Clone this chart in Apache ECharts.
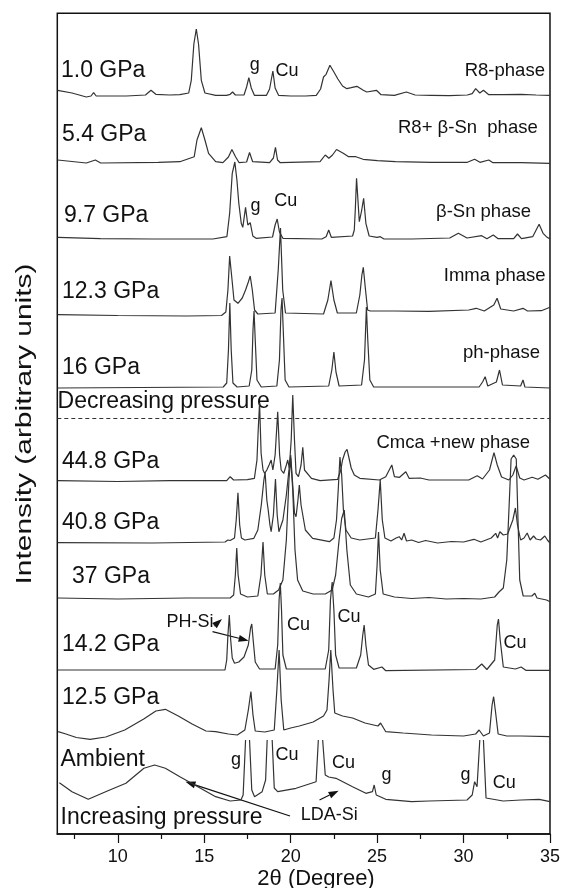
<!DOCTYPE html>
<html>
<head>
<meta charset="utf-8">
<script src="https://cdn.jsdelivr.net/npm/echarts@6/dist/echarts.min.js"></script>
<style>
  html, body { margin: 0; padding: 0; background: #ffffff; }
  #chart { width: 563px; height: 888px; }
</style>
</head>
<body>
<div id="chart"></div>
<script>
// ---- axis ----
const thetaMin = 6.5;
const thetaMax = 35;
const majorTicks = [10, 15, 20, 25, 30, 35];
const minorTicks = [7.5, 12.5, 17.5, 22.5, 27.5, 32.5];

// ---- patterns, top to bottom: [2θ, intensity above own baseline] ----
const pressures = ['1.0 GPa', '5.4 GPa', '9.7 GPa', '12.3 GPa', '16 GPa',
                   '44.8 GPa', '40.8 GPa', '37 GPa', '14.2 GPa', '12.5 GPa', 'Ambient'];
// baseline of each pattern in the stacked plot (arbitrary units)
const offsets = [738, 671, 595, 519, 446, 353.3, 291.5, 235.5, 163.3, 94, 32];

const p1_0 = [[6.52,5.7],[7.35,3],[8.18,-1],[8.45,0],[8.6,3.3],[8.75,0],[9.43,0],[10.5,0],[11.6,1],[11.92,5.7],[12.2,1.7],[13.0,1],[13.59,1.3],[14.1,3],[14.25,15.7],[14.4,52],[14.54,67],[14.67,52],[14.83,15.7],[15.04,3],[15.66,0.7],[16.29,0.7],[16.5,1.7],[16.64,4],[16.8,1],[17.3,1],[17.45,9],[17.58,18.3],[17.72,8],[17.9,0.7],[18.6,0.7],[18.78,7],[18.97,25],[19.1,8],[19.3,0.7],[20.0,0],[20.86,0],[21.48,0.7],[21.73,7],[21.9,19],[22.05,21.7],[22.27,30.7],[22.5,24],[22.73,17],[23.0,10],[23.25,7.3],[23.5,8.3],[23.83,9.7],[24.2,5.7],[24.4,4],[24.96,5.7],[25.23,1.3],[26.0,0.7],[26.69,4],[27.2,1],[28.14,0.7],[29.18,0.3],[30.22,1],[30.5,2.3],[30.7,7.3],[30.94,3],[31.15,5.7],[31.46,1.3],[32.29,1.3],[33.33,1.7],[34.2,1],[35.0,0.7]];

const p5_4 = [[6.52,3],[8.18,0],[8.7,3],[9.01,0],[12.34,0.7],[13.59,1.3],[14.42,6.3],[14.58,23],[14.83,35.3],[15.04,23],[15.25,9.7],[15.66,1.3],[16.08,0.3],[16.4,6],[16.6,13.5],[16.81,6.3],[17.02,0.3],[17.45,1],[17.62,10.5],[17.8,1.3],[18.78,0.3],[19.0,5],[19.12,15.7],[19.24,3],[19.4,0.3],[21.7,1.3],[22.0,8],[22.21,4.7],[22.42,8],[22.65,13.5],[23.04,9.7],[23.35,6.3],[23.77,6.3],[24.19,3.7],[25.02,2.3],[26.06,1.3],[28.14,0.7],[30.22,0.7],[30.64,3.7],[30.95,0.7],[31.46,3],[31.7,0.3],[33.33,0.3],[35.0,-0.3]];

const p9_7 = [[6.52,1.7],[9.0,0.3],[12.0,0],[15.5,0],[16.31,2.3],[16.47,25.7],[16.62,65.7],[16.77,77],[16.89,59],[17.0,35.7],[17.14,15.7],[17.23,11.7],[17.39,31.7],[17.52,14],[17.66,16.3],[17.81,3],[18.0,0.7],[18.95,2],[19.1,14],[19.22,20],[19.35,7],[19.55,0.7],[21.8,0],[22.05,2.3],[22.2,9],[22.35,1.7],[23.58,3],[23.68,9],[23.74,30],[23.81,60.7],[23.97,17.3],[24.1,28],[24.22,40.7],[24.35,15.7],[24.54,3],[25.0,1.7],[25.18,2.3],[25.4,0],[27.0,0],[29.2,1],[29.7,5.7],[30.2,1],[31.05,3.3],[31.35,0.3],[31.72,4],[32.0,0.3],[32.9,0.3],[33.12,5],[33.35,0.3],[34.0,2.3],[34.37,14.7],[34.6,5.7],[34.79,2.3],[35.0,0]];

const p12_3 = [[6.52,0.3],[10,-0.5],[14,-1],[16.0,-0.5],[16.25,3],[16.37,25],[16.47,59],[16.58,40],[16.72,15],[16.95,11.7],[17.2,17],[17.39,25],[17.55,33],[17.66,39],[17.78,25],[17.91,5],[18.1,1],[19.1,2],[19.28,45],[19.41,87],[19.54,25],[19.7,2],[21.9,1],[22.15,15],[22.33,34.3],[22.5,15],[22.7,2],[23.8,2],[24.0,20],[24.12,40],[24.2,47.7],[24.33,25],[24.45,5],[24.6,4],[26,4],[28,3.7],[30.3,5],[30.73,6.7],[31.2,4],[31.75,10],[31.94,16.7],[32.15,6],[32.9,4],[33.44,6.7],[33.7,4],[34.5,4.3],[35.0,7.7]];

const p16 = [[6.52,0],[16.1,1],[16.3,5],[16.4,38],[16.48,85],[16.56,38],[16.66,5],[16.9,1],[17.6,2],[17.75,18],[17.82,58],[17.88,77],[17.95,48],[18.05,8],[18.3,1],[19.2,2],[19.35,28],[19.44,78],[19.5,90],[19.57,58],[19.68,8],[19.9,1],[22.2,2],[22.38,18],[22.5,36],[22.62,16],[22.8,2],[24.1,3],[24.27,28],[24.38,81],[24.46,48],[24.58,8],[24.8,1],[30.9,1],[31.1,6],[31.25,11.3],[31.4,2],[31.9,6],[32.08,18],[32.25,3],[33.3,2],[33.44,8],[33.55,1],[35.0,0]];

const p44_8 = [[6.52,0],[10,-0.8],[13,0],[16.3,0],[16.5,4],[16.7,0.7],[17.5,1],[17.9,2.4],[18.05,20.7],[18.12,50],[18.2,77.7],[18.29,27.4],[18.4,10.7],[18.49,7.4],[18.62,10.7],[18.75,15.7],[18.87,20.7],[18.97,10.7],[19.1,25.7],[19.25,69],[19.36,25.7],[19.45,10.7],[19.6,7.4],[19.75,15.7],[19.83,20.7],[19.92,12.7],[20.03,40.7],[20.12,85.7],[20.22,40.7],[20.31,7.4],[20.45,4],[20.6,15.7],[20.7,33.4],[20.8,10.7],[21.2,2.4],[21.7,0],[22.72,1.4],[22.9,10.7],[23.0,20.7],[23.15,28.7],[23.26,31.4],[23.4,20.7],[23.5,12.7],[23.68,5.7],[24.0,2.4],[25.13,0.7],[25.5,4],[25.7,10.7],[25.85,15.7],[26.0,4],[26.3,3.4],[26.66,9],[26.85,2.4],[27.5,2.7],[28,0.7],[30.3,0.7],[30.79,5],[31.1,1.7],[31.5,10.7],[31.76,28],[31.95,15.7],[32.2,3.7],[32.62,0.7],[32.85,5.7],[33.04,14.7],[33.25,2.7],[33.5,0.7],[33.97,3.4],[34.3,1.4],[34.74,5.7],[35.0,1.4]];

const p40_8 = [[6.52,-0.2],[12,-0.5],[16.2,0.5],[16.37,2.5],[16.5,2],[16.75,4.5],[16.85,22.5],[16.95,49.8],[17.05,17.5],[17.15,4.5],[17.35,2.5],[17.87,4.2],[18.1,12.5],[18.3,37.5],[18.45,62.5],[18.52,70.5],[18.62,42.5],[18.7,32.5],[18.8,17.5],[18.87,10.8],[19.0,27.5],[19.12,63.5],[19.22,27.5],[19.32,10.8],[19.55,22.5],[19.75,47.5],[19.9,72.5],[20.0,87.5],[20.1,62.5],[20.22,29.5],[20.31,25.8],[20.42,42.5],[20.5,57.5],[20.6,37.5],[20.85,12.5],[21.27,4.2],[22.24,0.8],[22.5,4.5],[22.65,22.5],[22.75,52.5],[22.85,85.5],[22.95,67.5],[23.05,32.5],[23.2,12.5],[23.5,4.5],[24.0,2.5],[24.9,4.5],[25.05,32.5],[25.18,62.5],[25.3,22.5],[25.45,4.5],[25.8,1.5],[26.1,4.5],[26.28,5.8],[26.42,2.5],[26.56,9.2],[26.7,1.5],[27.0,2.5],[27.4,0],[27.8,2],[28.5,-0.5],[29.3,1],[30.0,0.5],[30.6,3.2],[31.0,0.5],[31.6,4.5],[31.86,9.2],[31.97,4.5],[32.1,10.8],[32.3,7.5],[32.55,8.5],[32.85,22.5],[33.0,34.5],[33.12,17.5],[33.3,2.5],[33.5,4.5],[33.68,9.5],[33.85,2.5],[34.05,6.5],[34.2,3.5],[34.45,2.5],[34.7,6.5],[34.85,2.5],[35.0,-0.5]];

const p37 = [[6.52,0.5],[10,-0.5],[14,0.5],[16.5,0.5],[16.7,3.5],[16.8,23.5],[16.88,50.5],[16.96,23.5],[17.1,4.5],[17.5,1.5],[18.1,2.5],[18.28,23.5],[18.4,56.5],[18.5,23.5],[18.65,4.5],[19.0,4.5],[19.3,8.5],[19.55,18.5],[19.75,58.5],[19.9,118.5],[20.0,140.5],[20.12,108.5],[20.25,48.5],[20.4,18.5],[20.7,7.5],[21.3,4.5],[22.0,4.5],[22.4,8.5],[22.6,23.5],[22.8,58.5],[22.95,80],[23.1,88.5],[23.25,48.5],[23.45,13.5],[23.8,4.5],[24.5,1.5],[24.9,4.5],[25.0,33.5],[25.08,66.5],[25.18,28.5],[25.35,4.5],[26.0,1.5],[27.0,0],[28.0,1],[29.0,-0.5],[30.0,0],[31.0,-0.5],[31.8,1.5],[32.05,6.5],[32.14,8.5],[32.3,10.5],[32.5,38.5],[32.65,98.5],[32.75,139.5],[32.9,143.5],[33.05,139.5],[33.15,78.5],[33.25,18.5],[33.45,2.5],[33.95,2.5],[34.12,5.2],[34.25,0.5],[34.8,-1.5],[35.0,-3.2]];

const p14_2 = [[6.52,0.7],[16.2,0.7],[16.3,10.7],[16.37,35.7],[16.45,55.7],[16.53,30.7],[16.62,12.7],[16.75,7.4],[17.0,8.7],[17.3,13.7],[17.55,25.7],[17.68,42.7],[17.75,46.7],[17.83,30.7],[17.95,8.7],[18.2,1.7],[19.1,1.7],[19.25,25.7],[19.33,70.7],[19.4,87.7],[19.47,60.7],[19.55,15.7],[19.75,1.7],[22.0,1.7],[22.2,20.7],[22.3,70.7],[22.4,88.7],[22.5,60.7],[22.6,15.7],[22.8,2.7],[23.8,2.7],[24.05,15.7],[24.17,35.7],[24.25,45.7],[24.35,25.7],[24.5,5.7],[24.8,1.4],[25.28,3.7],[25.5,0],[30.7,1.2],[31.05,6.7],[31.35,1.2],[31.8,10.7],[31.95,45.7],[32.02,51.7],[32.12,30.7],[32.3,3.7],[33.0,1.7],[33.33,3.7],[33.6,0.4],[35.0,0.4]];

const p12_5 = [[6.55,8.3],[7.0,6],[7.6,2.5],[8.4,0.7],[9.3,3],[10.4,10],[11.5,21],[12.2,29],[12.75,30.7],[13.5,24],[14.3,16],[15.1,9],[15.66,8.3],[16.4,6],[16.91,5],[17.35,10],[17.55,30],[17.7,48.5],[17.82,25],[17.95,9],[18.5,8],[19.05,10],[19.2,50],[19.33,90],[19.45,40],[19.6,10],[20.0,12],[20.5,14],[21.3,18],[21.9,24],[22.1,30],[22.22,60],[22.32,90],[22.45,50],[22.55,27],[23.0,24],[23.58,22],[24.3,17],[25.05,14],[25.2,17],[25.5,8.3],[26.5,7],[28.14,5],[30.0,4],[30.7,6],[30.9,10],[31.15,4],[31.5,7],[31.65,35],[31.74,43.3],[31.85,28],[32.0,6],[32.5,4],[33.33,4],[35.0,3.3]];

// strong reflections of the ambient pattern run off the top of their band (null = break)
const pAmbient = [[6.62,19.3],[7.35,10.3],[8.29,2.7],[9.43,11.3],[10.47,18.7],[11.51,33.7],[12.13,37],[12.75,33.7],[13.59,25.3],[14.63,15.3],[15.66,5.3],[16.5,1],[17.12,2],[17.25,7],[17.39,62],null,[17.62,62],[17.75,12],[17.91,5.3],[18.35,10.3],[18.55,22],[18.64,62],null,[18.93,62],[19.05,14],[19.25,10.3],[20.31,13.7],[21.47,20.3],[21.6,62],null,[21.85,62],[22.0,27],[22.2,25],[22.62,23.7],[23.58,15.3],[24.35,8.7],[24.73,10.3],[24.83,17],[24.95,7],[25.5,2.7],[27.0,0.3],[28.0,1],[30.2,2],[30.5,7],[30.64,20.3],[30.78,15.3],[30.94,62],null,[31.15,62],[31.3,4],[32.29,1],[33.33,2],[34.37,2.7],[35.0,0.3]];

const patterns = [p1_0, p5_4, p9_7, p12_3, p16, p44_8, p40_8, p37, p14_2, p12_5, pAmbient];

const lineColor = '#333333';
const textColor = '#111111';
const FONT = 'Liberation Sans, Arial, Helvetica, sans-serif';

const series = patterns.map((pts, i) => ({
  name: pressures[i],
  type: 'line',
  xAxisIndex: 0,
  yAxisIndex: 0,
  showSymbol: false,
  silent: true,
  connectNulls: false,
  lineStyle: { color: lineColor, width: 1.2 },
  data: pts.map(p => p === null ? ['-', '-'] : [p[0], p[1] + offsets[i]])
}));

// dashed separator between increasing and decreasing runs
series[4].markLine = {
  silent: true,
  symbol: 'none',
  label: { show: false },
  lineStyle: { color: '#333', width: 1, type: [4, 3] },
  data: [{ yAxis: 415.7 }]
};

// ---- annotation text ----
function txt(s, x, y, size, align) {
  return {
    type: 'text', x: x, y: y, silent: true,
    style: { text: s, fill: textColor, font: size + 'px ' + FONT,
             textAlign: align || 'left', textVerticalAlign: 'middle' }
  };
}
function arrow(x1, y1, x2, y2) {
  const a = Math.atan2(y2 - y1, x2 - x1), L = 10, W = 3.5;
  const bx = x2 - L * Math.cos(a), by = y2 - L * Math.sin(a);
  const nx = -Math.sin(a) * W, ny = Math.cos(a) * W;
  return [
    { type: 'line', silent: true, shape: { x1: x1, y1: y1, x2: bx, y2: by },
      style: { stroke: '#111', lineWidth: 1.2 } },
    { type: 'polygon', silent: true,
      shape: { points: [[x2, y2], [bx + nx, by + ny], [bx - nx, by - ny]] },
      style: { fill: '#111' } }
  ];
}

const big = 23, mid = 18.5, small = 18;
const graphics = [
  txt('1.0 GPa', 61, 71, big), txt('5.4 GPa', 62, 135, big), txt('9.7 GPa', 64, 216, big),
  txt('12.3 GPa', 62, 292, big), txt('16 GPa', 62, 368, big),
  txt('Decreasing pressure', 57.6, 402, big),
  txt('44.8 GPa', 62, 462, big), txt('40.8 GPa', 62, 523, big), txt('37 GPa', 72, 577, big),
  txt('14.2 GPa', 62, 645, big), txt('12.5 GPa', 62, 698, big),
  txt('Ambient', 60.5, 760, big), txt('Increasing pressure', 60.5, 818, big),

  txt('R8-phase', 464.7, 71, mid), txt('R8+ β-Sn  phase', 398, 128, mid),
  txt('β-Sn phase', 436, 212, mid), txt('Imma phase', 443.8, 276, mid),
  txt('ph-phase', 463, 353, mid), txt('Cmca +new phase', 376.4, 443, mid),

  txt('g', 254.7, 65, small, 'center'), txt('Cu', 275.6, 71, small),
  txt('g', 255.5, 206, small, 'center'), txt('Cu', 274.3, 201, small),
  txt('PH-Si', 166.4, 622, small),
  txt('Cu', 287, 625, small), txt('Cu', 337.5, 617, small), txt('Cu', 503.6, 643, small),
  txt('g', 236, 760, small, 'center'), txt('Cu', 275.6, 755, small), txt('Cu', 332, 763, small),
  txt('g', 386.5, 775, small, 'center'), txt('g', 465.4, 775, small, 'center'),
  txt('Cu', 492.8, 783, small), txt('LDA-Si', 300.8, 815, small),

  txt('2θ (Degree)', 316, 879, 22, 'center'),
  {
    type: 'text', x: 25, y: 424, rotation: Math.PI / 2, scaleX: 1.36, silent: true,
    style: { text: 'Intensity (arbitrary units)', fill: textColor, font: '22px ' + FONT,
             textAlign: 'center', textVerticalAlign: 'middle' }
  }
].concat(
  arrow(212.5, 631.7, 248.6, 640.7),
  arrow(214, 626, 222, 619),
  arrow(290, 816, 185.5, 781.7),
  arrow(319.5, 800, 338.6, 790.7)
);

const chart = echarts.init(document.getElementById('chart'), null, { renderer: 'canvas' });
chart.setOption({
  animation: false,
  backgroundColor: '#ffffff',
  grid: { left: 57.3, right: 12.3, top: 13.3, bottom: 54, show: true,
          borderColor: '#111', borderWidth: 1.5, backgroundColor: 'transparent' },
  xAxis: [
    {
      type: 'value', min: thetaMin, max: thetaMax, position: 'bottom',
      axisLine: { show: true, onZero: false, lineStyle: { color: '#111', width: 1.5 } },
      axisTick: { show: true, inside: false, length: 9, customValues: majorTicks,
                  lineStyle: { color: '#111', width: 1.2 } },
      axisLabel: { show: true, customValues: majorTicks, margin: 14, fontSize: 18,
                   color: textColor, fontFamily: FONT },
      splitLine: { show: false }
    },
    {
      type: 'value', min: thetaMin, max: thetaMax, position: 'bottom',
      axisLine: { show: false },
      axisTick: { show: true, inside: false, length: 5, customValues: minorTicks,
                  lineStyle: { color: '#111', width: 1.2 } },
      axisLabel: { show: false },
      splitLine: { show: false }
    }
  ],
  yAxis: {
    type: 'value', min: 0, max: 820.7,
    axisLine: { show: false }, axisTick: { show: false },
    axisLabel: { show: false }, splitLine: { show: false }
  },
  series: series,
  graphic: graphics
});
</script>
</body>
</html>
